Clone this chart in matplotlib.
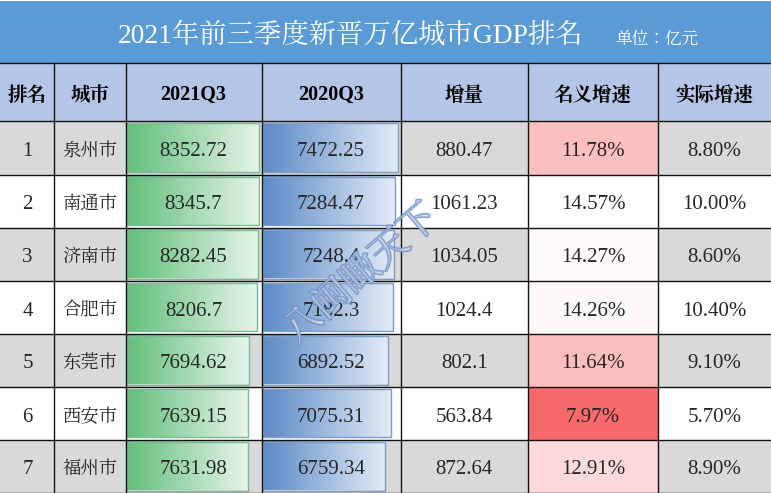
import glob
import numpy as np
import matplotlib
matplotlib.use("Agg")
import matplotlib.pyplot as plt
from matplotlib import font_manager as fm
from matplotlib.colors import LinearSegmentedColormap as LSC
from matplotlib.patches import Rectangle
import matplotlib.patheffects as pe

TITLE = "2021年前三季度新晋万亿城市GDP排名"
UNIT = "单位：亿元"
HEADERS = ["排名", "城市", "2021Q3", "2020Q3", "增量", "名义增速", "实际增速"]
RANKS = [1, 2, 3, 4, 5, 6, 7]
CITIES = ["泉州市", "南通市", "济南市", "合肥市", "东莞市", "西安市", "福州市"]
GDP_2021 = ["8352.72", "8345.7", "8282.45", "8206.7", "7694.62", "7639.15", "7631.98"]
GDP_2020 = ["7472.25", "7284.47", "7248.4", "7182.3", "6892.52", "7075.31", "6759.34"]
INCREASE = ["880.47", "1061.23", "1034.05", "1024.4", "802.1", "563.84", "872.64"]
NOMINAL = ["11.78%", "14.57%", "14.27%", "14.26%", "11.64%", "7.97%", "12.91%"]
REAL = ["8.80%", "10.00%", "8.60%", "10.40%", "9.10%", "5.70%", "8.90%"]
WATERMARK = "八闽瞰天下"

for p in glob.glob("/usr/share/fonts/opentype/noto/NotoSerifCJK-*.ttc") + \
         glob.glob("/usr/share/fonts/opentype/noto/NotoSansCJK-*.ttc"):
    if any(k in p for k in ("Regular", "Bold")):
        try:
            fm.fontManager.addfont(p)
        except Exception:
            pass
names = {f.name for f in fm.fontManager.ttflist}
CJK_NAME = next((n for n in ["Noto Serif CJK SC", "Noto Serif CJK JP", "Noto Sans CJK SC", "Noto Sans CJK JP"]
                 if n in names), "DejaVu Sans")
SERIF = ["Liberation Serif", CJK_NAME]
CJK = [CJK_NAME]

W, H = 771, 493
fig = plt.figure(figsize=(W / 100, H / 100), dpi=100)
ax = fig.add_axes([0, 0, 1, 1])
ax.set_xlim(0, W); ax.set_ylim(H, 0); ax.axis("off")

col_x = [0, 54, 125.5, 261.5, 400.5, 528, 658, 771]
row_y = [121, 174.5, 227.5, 281, 333.5, 387, 439.5, 493]
top, head = 1, 63

ax.add_patch(Rectangle((0, top), W, head - top, fc="#5b9bd5", ec="none", zorder=1))
ax.add_patch(Rectangle((0, head), W, row_y[0] - head, fc="#b4c6e7", ec="none", zorder=1))
for i in range(7):
    if i % 2 == 0:
        ax.add_patch(Rectangle((0, row_y[i]), W, row_y[i + 1] - row_y[i], fc="#d9d9d9", ec="none", zorder=1))

vals = np.array([float(v.rstrip("%")) for v in NOMINAL])
cm = LSC.from_list("n", ["#f8696b", "#ffffff"])
nn = (vals - vals.min()) / (vals.max() - vals.min())
for i in range(7):
    ax.add_patch(Rectangle((col_x[5], row_y[i]), col_x[6] - col_x[5], row_y[i + 1] - row_y[i],
                           fc=cm(nn[i]), ec="none", zorder=1.5))

def bars(values, x0, scale, c0, c1, edge):
    cmap = LSC.from_list("g", [c0, c1])
    grad = np.linspace(0, 1, 256).reshape(1, -1)
    for i, s in enumerate(values):
        w = float(s) * scale
        y0, y1 = row_y[i] + 2, row_y[i + 1] - 2.5
        ax.imshow(grad, cmap=cmap, extent=(x0, x0 + w, y1, y0), aspect="auto", zorder=2,
                  interpolation="bilinear")
        ax.add_patch(Rectangle((x0, y0), w, y1 - y0, fc="none", ec=edge, lw=1.0, zorder=2.5))

bars(GDP_2021, col_x[2] + 1.5, 132.3 / 8352.72, "#63be7b", "#e6f5ea", "#7fb894")
bars(GDP_2020, col_x[3] + 1.5, 135 / 7472.25, "#5a8ac6", "#e3ebf6", "#7f9cc4")
ax.set_xlim(0, W); ax.set_ylim(H, 0)

for y in [head] + row_y:
    ax.plot([0, W], [y, y], color="#111111", lw=1.0, zorder=3)
for x in col_x[1:-1]:
    ax.plot([x, x], [head, H], color="#111111", lw=1.0, zorder=3)

ax.text(350.5, 43, TITLE, color="white", fontsize=19.7, family=SERIF, ha="center", va="baseline", zorder=4)
ax.text(657, 43.5, UNIT, color="white", fontsize=12, family=CJK, ha="center", va="baseline", zorder=4)

cx = [(col_x[i] + col_x[i + 1]) / 2 for i in range(7)]
header_dy = [1, 1, 0, 0, 1, 2, 0]
for j, h in enumerate(HEADERS):
    is_num = j in (2, 3)
    ax.text(cx[j], 100 + header_dy[j], h, fontsize=14.5 if is_num else 14, fontweight="bold",
            family=SERIF if is_num else CJK, ha="center", va="baseline", color="black", zorder=4)

INK = "#262626"
for i in range(7):
    yb = row_y[i] + 34.5
    ax.text(cx[0] + 0.5, yb, str(RANKS[i]), fontsize=15, family=SERIF, ha="center", va="baseline", color=INK, zorder=4)
    ax.text(cx[1], yb, CITIES[i], fontsize=13.2, family=CJK, ha="center", va="baseline", color=INK, zorder=4)
    for j, col in zip([2, 3, 4, 5, 6], [GDP_2021, GDP_2020, INCREASE, NOMINAL, REAL]):
        ax.text(cx[j], yb, col[i], fontsize=15, family=SERIF, ha="center", va="baseline", color=INK, zorder=4)

ax.text(362, 275, WATERMARK, fontsize=27.5, family=CJK, rotation=41, rotation_mode="anchor",
        ha="center", va="center", color="#ffffff", alpha=0.3, zorder=5,
        path_effects=[pe.Stroke(linewidth=1.6, foreground="#6f8fc4", alpha=0.85), pe.Normal()])

fig.savefig("out.png", dpi=100)
